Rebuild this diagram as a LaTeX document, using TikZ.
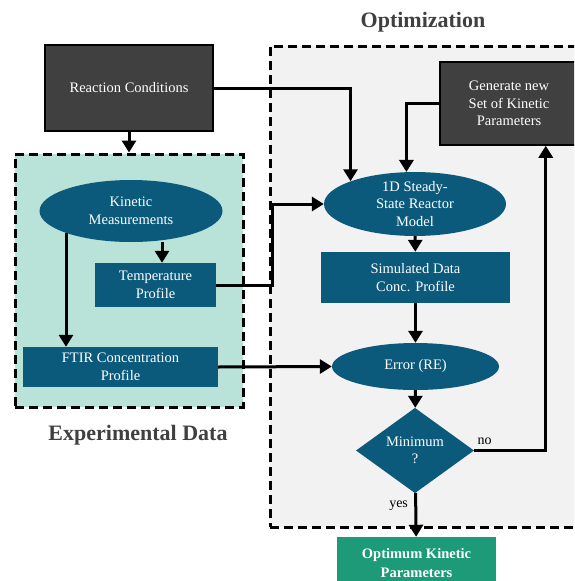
\documentclass[tikz,border=0pt]{standalone}
\usepackage{fontspec}
\setmainfont{Liberation Serif}
\usepackage{tikz}
\usetikzlibrary{positioning,arrows.meta,shapes.geometric}

\definecolor{boxgray}{HTML}{404040}
\definecolor{stepblue}{HTML}{0B5A7C}
\definecolor{expgreen}{HTML}{B9E2D9}
\definecolor{optgray}{HTML}{F2F2F2}
\definecolor{optimgreen}{HTML}{1D9A78}

\tikzset{
  flowtext/.style={text=white, align=center, inner sep=0pt,
    font=\fontsize{14.5}{17.5}\selectfont},
  darkbox/.style={flowtext, draw=black, line width=1.5pt, fill=boxgray},
  bluebox/.style={flowtext, fill=stepblue},
  blueoval/.style={flowtext, ellipse, fill=stepblue},
  region/.style={draw=black, line width=3pt, dash pattern=on 9pt off 5pt},
  title/.style={font=\fontsize{22}{26}\selectfont\bfseries, text=boxgray},
  flow/.style={->, line width=3pt},
}

\begin{document}
\begin{tikzpicture}[x=1pt, y=-1pt, >={Triangle[length=12pt,width=14pt]}]
    \clip (0,0) rectangle (574,581);

    % Optimization region (runs off the right edge)
    \node[region, fill=optgray, minimum width=340pt, minimum height=481pt] (opt) at (440,286.5) {};
    \node[title] (optlabel) at (423,22) {Optimization};

    % Experimental data region
    \node[region, fill=expgreen, minimum width=228pt, minimum height=253pt] (exp) at (129,280.5) {};
    \node[title] (explabel) at (138,435) {Experimental Data};

    % Inputs
    \node[darkbox, minimum width=168pt, minimum height=86pt] (rc) at (129,88) {Reaction Conditions};
    \node[darkbox, minimum width=138pt, minimum height=83pt] (gen) at (509,103.5) {Generate new\\Set of Kinetic\\Parameters};

    % Measurement side
    \node[blueoval, minimum width=183pt, minimum height=62pt] (km) at (131,211) {Kinetic\\Measurements};
    \node[bluebox, minimum width=121pt, minimum height=44pt] (tp) at (155.5,285) {Temperature\\Profile};
    \node[bluebox, minimum width=195pt, minimum height=40pt] (ftir) at (120.5,367) {FTIR Concentration\\Profile};

    % Optimization loop
    \node[blueoval, minimum width=182pt, minimum height=57pt] (model) at (415,204) {1D Steady-\\State Reactor\\Model};
    \node[bluebox, minimum width=189pt, minimum height=51pt] (sim) at (415.5,277.5) {Simulated Data\\Conc. Profile};
    \node[blueoval, minimum width=167pt, minimum height=47pt] (err) at (415.5,366.5) {Error (RE)};
    \node[flowtext, diamond, fill=stepblue, minimum width=118pt, minimum height=75pt] (minq) at (415,450.5) {Minimum\\?};
    \node[flowtext, fill=optimgreen, font=\fontsize{14.5}{19}\selectfont\bfseries,
          minimum width=159pt, minimum height=52pt] (best) at (416.5,563) {Optimum Kinetic\\Parameters};

    % Arrows
    \draw[flow] (rc) -- (exp.north);
    \draw[flow] (rc.east) -| (model.north west);
    \draw[flow] (gen.west) -| (model.105);
    \draw[flow] (km.south -| 162,0) -- (tp.north -| 162,0);
    \draw[flow] (km.south west -| 66,0) -- (ftir.north -| 66,0);
    \draw[flow] (tp.east) -- ++(56,0) |- (model.west);
    \draw[flow] (model) -- (sim);
    \draw[flow] (sim) -- (err);
    \draw[flow] (ftir.east) -- (err.west);
    \draw[flow] (err) -- (minq);
    \draw[flow] (minq.east) -| ([xshift=-33pt]gen.south east);
    \draw[flow] (minq) -- node[pos=0.3, left=3pt, font=\fontsize{14}{16}\selectfont] {yes} (best);
    \node[font=\fontsize{14}{16}\selectfont, above right=2pt and 0pt of minq.east] (nolabel) {no};
\end{tikzpicture}
\end{document}
